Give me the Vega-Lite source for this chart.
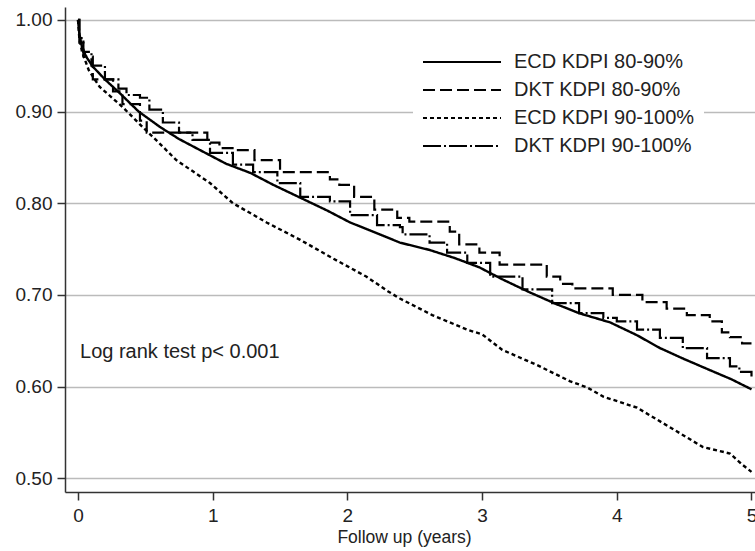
{
  "$schema": "https://vega.github.io/schema/vega-lite/v6.json",
  "width": 690,
  "height": 485,
  "autosize": {"type": "none"},
  "padding": {"left": 65, "top": 7, "right": 0, "bottom": 59},
  "background": "white",
  "config": {
    "view": {"stroke": null},
    "font": "Liberation Sans",
    "axis": {
      "labelFont": "Liberation Sans",
      "titleFont": "Liberation Sans",
      "labelFontSize": 19,
      "titleFontSize": 17.5,
      "titleFontWeight": "normal",
      "labelColor": "#222",
      "titleColor": "#222",
      "domainColor": "#333",
      "domainWidth": 1.5,
      "tickColor": "#333",
      "tickWidth": 1.5,
      "tickSize": 8
    }
  },
  "datasets": {
    "ecd": [
      {"t": 0, "s": 1.0, "group": "ECD KDPI 80-90%"},
      {"t": 0.01, "s": 0.985, "group": "ECD KDPI 80-90%"},
      {"t": 0.03, "s": 0.97, "group": "ECD KDPI 80-90%"},
      {"t": 0.06, "s": 0.96, "group": "ECD KDPI 80-90%"},
      {"t": 0.11, "s": 0.949, "group": "ECD KDPI 80-90%"},
      {"t": 0.2, "s": 0.935, "group": "ECD KDPI 80-90%"},
      {"t": 0.31, "s": 0.92, "group": "ECD KDPI 80-90%"},
      {"t": 0.45, "s": 0.9, "group": "ECD KDPI 80-90%"},
      {"t": 0.61, "s": 0.883, "group": "ECD KDPI 80-90%"},
      {"t": 0.75, "s": 0.87, "group": "ECD KDPI 80-90%"},
      {"t": 0.905, "s": 0.858, "group": "ECD KDPI 80-90%"},
      {"t": 1.1, "s": 0.843, "group": "ECD KDPI 80-90%"},
      {"t": 1.28, "s": 0.833, "group": "ECD KDPI 80-90%"},
      {"t": 1.45, "s": 0.82, "group": "ECD KDPI 80-90%"},
      {"t": 1.65, "s": 0.806, "group": "ECD KDPI 80-90%"},
      {"t": 1.85, "s": 0.792, "group": "ECD KDPI 80-90%"},
      {"t": 2.02, "s": 0.779, "group": "ECD KDPI 80-90%"},
      {"t": 2.24, "s": 0.766, "group": "ECD KDPI 80-90%"},
      {"t": 2.39, "s": 0.757, "group": "ECD KDPI 80-90%"},
      {"t": 2.61, "s": 0.749, "group": "ECD KDPI 80-90%"},
      {"t": 2.8, "s": 0.74, "group": "ECD KDPI 80-90%"},
      {"t": 2.98, "s": 0.73, "group": "ECD KDPI 80-90%"},
      {"t": 3.15, "s": 0.717, "group": "ECD KDPI 80-90%"},
      {"t": 3.35, "s": 0.703, "group": "ECD KDPI 80-90%"},
      {"t": 3.55, "s": 0.69, "group": "ECD KDPI 80-90%"},
      {"t": 3.72, "s": 0.68, "group": "ECD KDPI 80-90%"},
      {"t": 3.95, "s": 0.67, "group": "ECD KDPI 80-90%"},
      {"t": 4.15, "s": 0.656, "group": "ECD KDPI 80-90%"},
      {"t": 4.32, "s": 0.642, "group": "ECD KDPI 80-90%"},
      {"t": 4.5, "s": 0.63, "group": "ECD KDPI 80-90%"},
      {"t": 4.69, "s": 0.618, "group": "ECD KDPI 80-90%"},
      {"t": 4.85, "s": 0.608, "group": "ECD KDPI 80-90%"},
      {"t": 5.0, "s": 0.597, "group": "ECD KDPI 80-90%"},
      {"t": 0, "s": 1.0, "group": "ECD KDPI 90-100%"},
      {"t": 0.01, "s": 0.98, "group": "ECD KDPI 90-100%"},
      {"t": 0.03, "s": 0.965, "group": "ECD KDPI 90-100%"},
      {"t": 0.08, "s": 0.945, "group": "ECD KDPI 90-100%"},
      {"t": 0.16, "s": 0.927, "group": "ECD KDPI 90-100%"},
      {"t": 0.33, "s": 0.905, "group": "ECD KDPI 90-100%"},
      {"t": 0.48, "s": 0.883, "group": "ECD KDPI 90-100%"},
      {"t": 0.6, "s": 0.866, "group": "ECD KDPI 90-100%"},
      {"t": 0.73, "s": 0.847, "group": "ECD KDPI 90-100%"},
      {"t": 0.85, "s": 0.835, "group": "ECD KDPI 90-100%"},
      {"t": 0.98, "s": 0.822, "group": "ECD KDPI 90-100%"},
      {"t": 1.15, "s": 0.8, "group": "ECD KDPI 90-100%"},
      {"t": 1.4, "s": 0.779, "group": "ECD KDPI 90-100%"},
      {"t": 1.65, "s": 0.76, "group": "ECD KDPI 90-100%"},
      {"t": 1.89, "s": 0.74, "group": "ECD KDPI 90-100%"},
      {"t": 2.14, "s": 0.72, "group": "ECD KDPI 90-100%"},
      {"t": 2.3, "s": 0.704, "group": "ECD KDPI 90-100%"},
      {"t": 2.39, "s": 0.696, "group": "ECD KDPI 90-100%"},
      {"t": 2.63, "s": 0.678, "group": "ECD KDPI 90-100%"},
      {"t": 2.89, "s": 0.662, "group": "ECD KDPI 90-100%"},
      {"t": 3.0, "s": 0.657, "group": "ECD KDPI 90-100%"},
      {"t": 3.15, "s": 0.64, "group": "ECD KDPI 90-100%"},
      {"t": 3.4, "s": 0.624, "group": "ECD KDPI 90-100%"},
      {"t": 3.65, "s": 0.606, "group": "ECD KDPI 90-100%"},
      {"t": 3.78, "s": 0.599, "group": "ECD KDPI 90-100%"},
      {"t": 3.9, "s": 0.589, "group": "ECD KDPI 90-100%"},
      {"t": 4.15, "s": 0.577, "group": "ECD KDPI 90-100%"},
      {"t": 4.39, "s": 0.556, "group": "ECD KDPI 90-100%"},
      {"t": 4.64, "s": 0.534, "group": "ECD KDPI 90-100%"},
      {"t": 4.84, "s": 0.527, "group": "ECD KDPI 90-100%"},
      {"t": 4.93, "s": 0.515, "group": "ECD KDPI 90-100%"},
      {"t": 5.0, "s": 0.507, "group": "ECD KDPI 90-100%"}
    ],
    "dkt": [
      {"t": 0, "s": 1.0, "group": "DKT KDPI 80-90%"},
      {"t": 0.01, "s": 0.975, "group": "DKT KDPI 80-90%"},
      {"t": 0.04, "s": 0.96, "group": "DKT KDPI 80-90%"},
      {"t": 0.11, "s": 0.935, "group": "DKT KDPI 80-90%"},
      {"t": 0.26, "s": 0.922, "group": "DKT KDPI 80-90%"},
      {"t": 0.33, "s": 0.908, "group": "DKT KDPI 80-90%"},
      {"t": 0.46, "s": 0.89, "group": "DKT KDPI 80-90%"},
      {"t": 0.51, "s": 0.877, "group": "DKT KDPI 80-90%"},
      {"t": 0.96, "s": 0.866, "group": "DKT KDPI 80-90%"},
      {"t": 1.05, "s": 0.86, "group": "DKT KDPI 80-90%"},
      {"t": 1.16, "s": 0.858, "group": "DKT KDPI 80-90%"},
      {"t": 1.31, "s": 0.847, "group": "DKT KDPI 80-90%"},
      {"t": 1.5, "s": 0.834, "group": "DKT KDPI 80-90%"},
      {"t": 1.87, "s": 0.826, "group": "DKT KDPI 80-90%"},
      {"t": 1.94, "s": 0.82, "group": "DKT KDPI 80-90%"},
      {"t": 2.05, "s": 0.807, "group": "DKT KDPI 80-90%"},
      {"t": 2.2, "s": 0.793, "group": "DKT KDPI 80-90%"},
      {"t": 2.37, "s": 0.784, "group": "DKT KDPI 80-90%"},
      {"t": 2.46, "s": 0.78, "group": "DKT KDPI 80-90%"},
      {"t": 2.76, "s": 0.769, "group": "DKT KDPI 80-90%"},
      {"t": 2.83, "s": 0.755, "group": "DKT KDPI 80-90%"},
      {"t": 2.98, "s": 0.746, "group": "DKT KDPI 80-90%"},
      {"t": 3.13, "s": 0.733, "group": "DKT KDPI 80-90%"},
      {"t": 3.48, "s": 0.72, "group": "DKT KDPI 80-90%"},
      {"t": 3.58, "s": 0.712, "group": "DKT KDPI 80-90%"},
      {"t": 3.67, "s": 0.707, "group": "DKT KDPI 80-90%"},
      {"t": 3.97, "s": 0.7, "group": "DKT KDPI 80-90%"},
      {"t": 4.19, "s": 0.692, "group": "DKT KDPI 80-90%"},
      {"t": 4.37, "s": 0.685, "group": "DKT KDPI 80-90%"},
      {"t": 4.52, "s": 0.678, "group": "DKT KDPI 80-90%"},
      {"t": 4.69, "s": 0.671, "group": "DKT KDPI 80-90%"},
      {"t": 4.78, "s": 0.659, "group": "DKT KDPI 80-90%"},
      {"t": 4.84, "s": 0.654, "group": "DKT KDPI 80-90%"},
      {"t": 4.93, "s": 0.647, "group": "DKT KDPI 80-90%"},
      {"t": 5.0, "s": 0.647, "group": "DKT KDPI 80-90%"},
      {"t": 0, "s": 1.0, "group": "DKT KDPI 90-100%"},
      {"t": 0.01, "s": 0.98, "group": "DKT KDPI 90-100%"},
      {"t": 0.04, "s": 0.965, "group": "DKT KDPI 90-100%"},
      {"t": 0.1, "s": 0.95, "group": "DKT KDPI 90-100%"},
      {"t": 0.2, "s": 0.935, "group": "DKT KDPI 90-100%"},
      {"t": 0.3, "s": 0.925, "group": "DKT KDPI 90-100%"},
      {"t": 0.36, "s": 0.918, "group": "DKT KDPI 90-100%"},
      {"t": 0.46, "s": 0.915, "group": "DKT KDPI 90-100%"},
      {"t": 0.53, "s": 0.902, "group": "DKT KDPI 90-100%"},
      {"t": 0.63, "s": 0.888, "group": "DKT KDPI 90-100%"},
      {"t": 0.75, "s": 0.877, "group": "DKT KDPI 90-100%"},
      {"t": 0.85, "s": 0.869, "group": "DKT KDPI 90-100%"},
      {"t": 0.98, "s": 0.855, "group": "DKT KDPI 90-100%"},
      {"t": 1.15, "s": 0.842, "group": "DKT KDPI 90-100%"},
      {"t": 1.3, "s": 0.834, "group": "DKT KDPI 90-100%"},
      {"t": 1.48, "s": 0.822, "group": "DKT KDPI 90-100%"},
      {"t": 1.65, "s": 0.807, "group": "DKT KDPI 90-100%"},
      {"t": 1.87, "s": 0.802, "group": "DKT KDPI 90-100%"},
      {"t": 2.02, "s": 0.787, "group": "DKT KDPI 90-100%"},
      {"t": 2.22, "s": 0.776, "group": "DKT KDPI 90-100%"},
      {"t": 2.39, "s": 0.774, "group": "DKT KDPI 90-100%"},
      {"t": 2.41, "s": 0.766, "group": "DKT KDPI 90-100%"},
      {"t": 2.61, "s": 0.757, "group": "DKT KDPI 90-100%"},
      {"t": 2.74, "s": 0.746, "group": "DKT KDPI 90-100%"},
      {"t": 2.89, "s": 0.735, "group": "DKT KDPI 90-100%"},
      {"t": 3.06, "s": 0.72, "group": "DKT KDPI 90-100%"},
      {"t": 3.3, "s": 0.706, "group": "DKT KDPI 90-100%"},
      {"t": 3.52, "s": 0.691, "group": "DKT KDPI 90-100%"},
      {"t": 3.72, "s": 0.68, "group": "DKT KDPI 90-100%"},
      {"t": 3.9, "s": 0.675, "group": "DKT KDPI 90-100%"},
      {"t": 4.0, "s": 0.671, "group": "DKT KDPI 90-100%"},
      {"t": 4.15, "s": 0.662, "group": "DKT KDPI 90-100%"},
      {"t": 4.32, "s": 0.653, "group": "DKT KDPI 90-100%"},
      {"t": 4.49, "s": 0.642, "group": "DKT KDPI 90-100%"},
      {"t": 4.67, "s": 0.631, "group": "DKT KDPI 90-100%"},
      {"t": 4.84, "s": 0.622, "group": "DKT KDPI 90-100%"},
      {"t": 4.91, "s": 0.616, "group": "DKT KDPI 90-100%"},
      {"t": 5.0, "s": 0.611, "group": "DKT KDPI 90-100%"}
    ],
    "note": [
      {"t": 0.015, "s": 0.638, "label": "Log rank test p< 0.001"}
    ]
  },
  "encoding": {
    "x": {
      "field": "t", "type": "quantitative",
      "scale": {"domain": [-0.0965, 5.026], "nice": false, "zero": false},
      "axis": {"values": [0, 1, 2, 3, 4, 5], "format": "d", "grid": false, "title": "Follow up (years)", "labelPadding": 6, "titlePadding": 3, "titleX": 339}
    },
    "y": {
      "field": "s", "type": "quantitative",
      "scale": {"domain": [0.485, 1.014], "nice": false, "zero": false},
      "axis": {"values": [0.5, 0.6, 0.7, 0.8, 0.9, 1.0], "format": ".2f", "grid": true, "gridColor": "#bbbbbb", "gridWidth": 1.5, "title": null, "labelPadding": 5}
    }
  },
  "layer": [
    {
      "data": {"name": "ecd"},
      "mark": {"type": "line", "color": "black", "strokeWidth": 2.4, "interpolate": "linear", "clip": true},
      "encoding": {
        "strokeDash": {
          "field": "group", "type": "nominal",
          "scale": {
            "domain": ["ECD KDPI 80-90%", "DKT KDPI 80-90%", "ECD KDPI 90-100%", "DKT KDPI 90-100%"],
            "range": [[1, 0], [12, 5], [4, 3], [18, 3, 2, 3]]
          },
          "legend": {
            "orient": "none", "legendX": 348, "legendY": 32,
            "title": null, "fillColor": "white", "padding": 9,
            "symbolType": "stroke", "symbolSize": 6084, "symbolStrokeWidth": 2,
            "symbolStrokeColor": "black",
            "labelFontSize": 20, "labelFont": "Liberation Sans", "labelColor": "#222",
            "labelOffset": 12, "clipHeight": 28, "rowPadding": 0, "labelLimit": 300
          }
        }
      }
    },
    {
      "data": {"name": "dkt"},
      "mark": {"type": "line", "color": "black", "strokeWidth": 2.2, "interpolate": "step-after", "clip": true},
      "encoding": {
        "strokeDash": {"field": "group", "type": "nominal"}
      }
    },
    {
      "data": {"name": "note"},
      "mark": {"type": "text", "align": "left", "baseline": "middle", "fontSize": 20, "font": "Liberation Sans", "color": "#222"},
      "encoding": {"text": {"field": "label"}}
    }
  ]
}
